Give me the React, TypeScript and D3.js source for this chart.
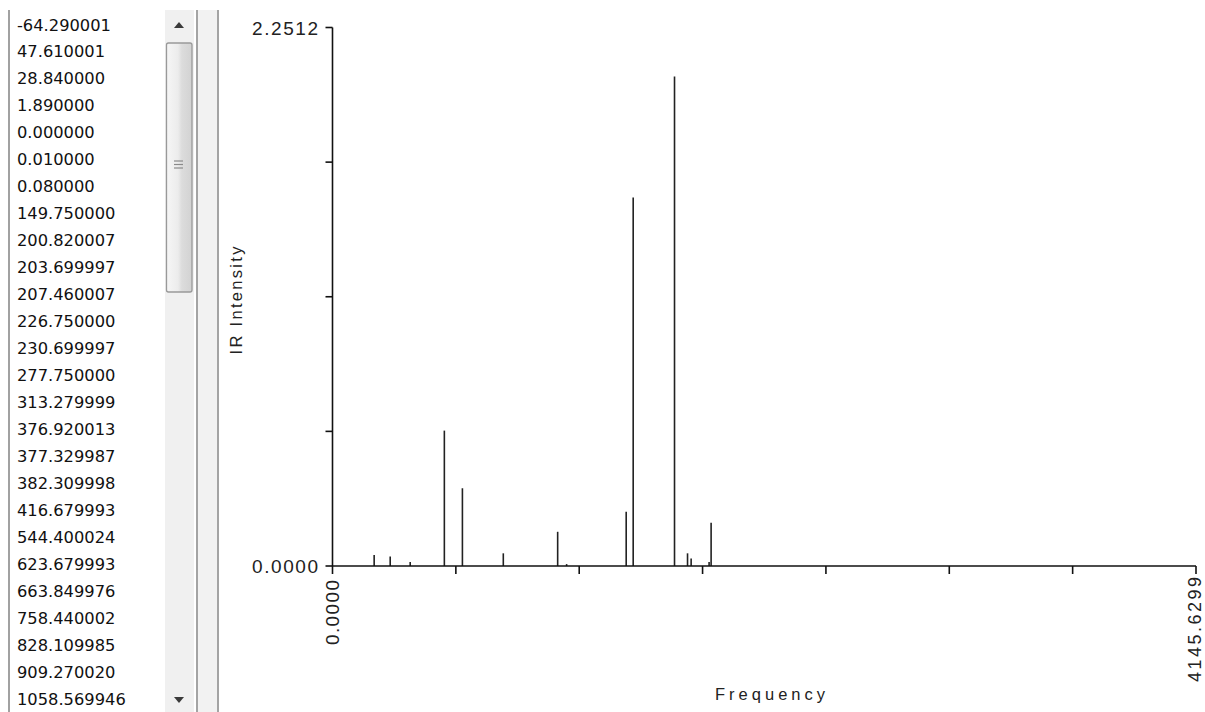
import React from "react";
import * as d3 from "d3";

const listValues = [
  "-64.290001", "47.610001", "28.840000", "1.890000", "0.000000", "0.010000",
  "0.080000", "149.750000", "200.820007", "203.699997", "207.460007", "226.750000",
  "230.699997", "277.750000", "313.279999", "376.920013", "377.329987", "382.309998",
  "416.679993", "544.400024", "623.679993", "663.849976", "758.440002", "828.109985",
  "909.270020", "1058.569946",
];

const frequencies = [200, 277, 373, 537, 623.7, 820, 1081, 1124, 1410, 1443.6, 1642, 1704.5, 1721.8, 1808, 1817.7];
const intensities = [0.046, 0.04, 0.017, 0.566, 0.325, 0.053, 0.143, 0.008, 0.227, 1.541, 2.0465, 0.053, 0.031, 0.017, 0.181];

const xMax = 4145.6299;
const yMax = 2.2512;
const xTickCount = 7;
const yTickCount = 4;
const xTickLabels = ["0.0000", "4145.6299"];
const yTickLabels = ["0.0000", "2.2512"];

export default function App() {
  const W = 1205, H = 712;
  const x = d3.scaleLinear().domain([0, xMax]).range([332.5, 1196]);
  const y = d3.scaleLinear().domain([0, yMax]).range([566, 27.5]);
  const xTicks = d3.range(xTickCount + 1).map((i) => (i * xMax) / xTickCount);
  const yTicks = d3.range(yTickCount + 1).map((i) => (i * yMax) / yTickCount);
  const rowY = d3.scaleLinear().domain([0, listValues.length - 1]).range([25, 699]);
  const axisFont = "'Liberation Sans', Arial, sans-serif";

  return (
    <svg width={W} height={H} style={{ position: "absolute", left: 0, top: 0, background: "#fff" }}>
      <defs>
        <linearGradient id="thumb" x1="0" x2="1" y1="0" y2="0">
          <stop offset="0" stopColor="#f6f6f6" />
          <stop offset="0.45" stopColor="#ececec" />
          <stop offset="0.6" stopColor="#dcdcdc" />
          <stop offset="1" stopColor="#d2d2d2" />
        </linearGradient>
      </defs>
      <rect x={0} y={0} width={W} height={H} fill="#fff" />
      {/* list panel */}
      <line x1={9} x2={9} y1={10} y2={H} stroke="#828282" strokeWidth={1.5} />
      {listValues.map((v, i) => (
        <text key={i} x={17} y={rowY(i)} dominantBaseline="central" fontFamily="'DejaVu Sans', sans-serif" fontSize={16.3} fill="#111">
          {v}
        </text>
      ))}
      {/* scrollbar */}
      <rect x={165} y={10} width={29} height={H - 10} fill="#f0f0f0" />
      <rect x={166.5} y={43} width={25.5} height={249} rx={2} fill="url(#thumb)" stroke="#999" strokeWidth={1.3} />
      {[161, 164.5, 168].map((gy) => (
        <line key={gy} x1={174} x2={183} y1={gy} y2={gy} stroke="#8a8a8a" strokeWidth={1.2} />
      ))}
      <path d="M174,28 L184,28 L179,22 Z" fill="#3a3a3a" />
      <path d="M174,697 L184,697 L179,703 Z" fill="#3a3a3a" />
      {/* splitter */}
      <rect x={196} y={10} width={22} height={H - 10} fill="#f2f2f2" />
      <line x1={197} x2={197} y1={10} y2={H} stroke="#a4a4a4" strokeWidth={2} />
      <line x1={218} x2={218} y1={10} y2={H} stroke="#a4a4a4" strokeWidth={2} />

      {/* peaks */}
      {frequencies.map((f, i) => (
        <line key={i} x1={x(f)} x2={x(f)} y1={y(0)} y2={y(intensities[i])} stroke="#222" strokeWidth={1.6} />
      ))}

      {/* axes */}
      <line x1={x(0)} x2={x(0)} y1={y(yMax)} y2={y(0)} stroke="#111" strokeWidth={1.6} />
      <line x1={x(0)} x2={x(xMax)} y1={y(0)} y2={y(0)} stroke="#111" strokeWidth={1.6} />
      {yTicks.map((t, i) => (
        <line key={i} x1={x(0) - 7} x2={x(0)} y1={y(t)} y2={y(t)} stroke="#111" strokeWidth={1.6} />
      ))}
      {xTicks.map((t, i) => (
        <line key={i} x1={x(t)} x2={x(t)} y1={y(0)} y2={y(0) + 8} stroke="#111" strokeWidth={1.6} />
      ))}
      <text x={318} y={y(yMax) + 1} textAnchor="end" dominantBaseline="central" fontFamily={axisFont} fontSize={19} textLength={66} lengthAdjust="spacing" fill="#222">
        {yTickLabels[1]}
      </text>
      <text x={318} y={y(0)} textAnchor="end" dominantBaseline="central" fontFamily={axisFont} fontSize={19} textLength={66} lengthAdjust="spacing" fill="#222">
        {yTickLabels[0]}
      </text>
      <text transform={`translate(${x(0)},580) rotate(-90)`} textAnchor="end" dominantBaseline="central" fontFamily={axisFont} fontSize={19} textLength={65} lengthAdjust="spacing" fill="#222">
        {xTickLabels[0]}
      </text>
      <text transform={`translate(${x(xMax) - 1},577) rotate(-90)`} textAnchor="end" dominantBaseline="central" fontFamily={axisFont} fontSize={18} textLength={105} lengthAdjust="spacing" fill="#222">
        {xTickLabels[1]}
      </text>
      <text transform="translate(242,300.5) rotate(-90)" textAnchor="middle" fontFamily={axisFont} fontSize={16.5} textLength={108} lengthAdjust="spacing" fill="#222">
        IR Intensity
      </text>
      <text x={770} y={700} textAnchor="middle" fontFamily={axisFont} fontSize={16.5} textLength={110} lengthAdjust="spacing" fill="#222">
        Frequency
      </text>
    </svg>
  );
}
